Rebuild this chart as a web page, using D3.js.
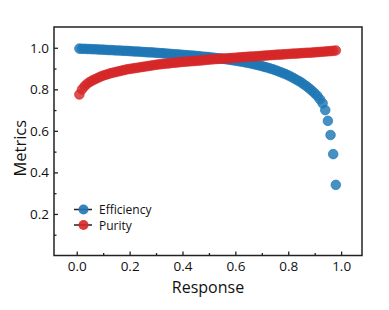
<!DOCTYPE html>
<html><head><meta charset="utf-8">
<script src="https://cdn.jsdelivr.net/npm/d3@7"></script>
<style>body{margin:0;background:#fff}svg{display:block}text{font-family:"Open Sans","DejaVu Sans",sans-serif;fill:#111}</style>
</head><body><svg id="c" width="389" height="310"></svg>
<script>
const responses = [0.01,0.02,0.03,0.04,0.05,0.06,0.07,0.08,0.09,0.10,0.11,0.12,0.13,0.14,0.15,0.16,0.17,0.18,0.19,0.20,0.21,0.22,0.23,0.24,0.25,0.26,0.27,0.28,0.29,0.30,0.31,0.32,0.33,0.34,0.35,0.36,0.37,0.38,0.39,0.40,0.41,0.42,0.43,0.44,0.45,0.46,0.47,0.48,0.49,0.50,0.51,0.52,0.53,0.54,0.55,0.56,0.57,0.58,0.59,0.60,0.61,0.62,0.63,0.64,0.65,0.66,0.67,0.68,0.69,0.70,0.71,0.72,0.73,0.74,0.75,0.76,0.77,0.78,0.79,0.80,0.81,0.82,0.83,0.84,0.85,0.86,0.87,0.88,0.89,0.90,0.91,0.92,0.93,0.94,0.95,0.96,0.97,0.98];
const efficiency = [0.996,0.995,0.995,0.994,0.994,0.993,0.993,0.992,0.991,0.991,0.990,0.989,0.989,0.988,0.987,0.987,0.986,0.985,0.985,0.984,0.983,0.982,0.982,0.981,0.980,0.979,0.978,0.978,0.977,0.976,0.975,0.974,0.973,0.972,0.971,0.970,0.969,0.968,0.967,0.966,0.965,0.964,0.963,0.962,0.961,0.960,0.958,0.957,0.956,0.955,0.953,0.952,0.950,0.949,0.947,0.946,0.944,0.942,0.940,0.938,0.936,0.934,0.932,0.929,0.927,0.924,0.921,0.918,0.915,0.912,0.908,0.905,0.901,0.897,0.893,0.888,0.883,0.878,0.873,0.867,0.861,0.854,0.847,0.840,0.832,0.823,0.814,0.804,0.793,0.781,0.768,0.752,0.733,0.700,0.648,0.580,0.488,0.340];
const purity = [0.775,0.800,0.815,0.827,0.836,0.843,0.849,0.855,0.861,0.866,0.870,0.874,0.878,0.881,0.884,0.887,0.890,0.893,0.896,0.898,0.900,0.902,0.904,0.906,0.908,0.910,0.912,0.914,0.916,0.918,0.920,0.921,0.923,0.924,0.925,0.927,0.928,0.929,0.931,0.932,0.933,0.934,0.935,0.936,0.937,0.938,0.939,0.940,0.942,0.943,0.944,0.945,0.946,0.947,0.948,0.948,0.949,0.950,0.951,0.952,0.953,0.954,0.955,0.956,0.957,0.958,0.958,0.959,0.960,0.961,0.962,0.963,0.964,0.965,0.966,0.967,0.967,0.968,0.969,0.970,0.971,0.972,0.972,0.973,0.974,0.975,0.976,0.976,0.977,0.978,0.979,0.980,0.981,0.982,0.983,0.984,0.985,0.987];
const seriesNames = ["Efficiency","Purity"];
const seriesColors = ["#1f77b4","#d62728"];
const xTicks = [0.0,0.2,0.4,0.6,0.8,1.0];
const xMinor = [0.1,0.3,0.5,0.7,0.9];
const yTicks = [0.2,0.4,0.6,0.8,1.0];
const yMinor = [0.1,0.3,0.5,0.7,0.9];

const svg = d3.select("#c");
const L=54, R=362, T=27, B=255.5;
const x = d3.scaleLinear().domain([-0.086,1.079]).range([L,R]);
const y = d3.scaleLinear().domain([0,1.1]).range([B,T]);

const series = [efficiency, purity];
series.forEach((vals,si)=>{
  svg.append("g").selectAll("circle").data(vals).join("circle")
    .attr("cx",(d,i)=>x(responses[i])).attr("cy",d=>y(d)).attr("r",4.8)
    .attr("fill",seriesColors[si]).attr("fill-opacity",0.82)
    .attr("stroke",seriesColors[si]).attr("stroke-opacity",0.85).attr("stroke-width",0.8);
});

// axes
const xa = svg.append("g").attr("transform",`translate(0,${B})`)
  .call(d3.axisBottom(x).tickValues(xTicks).tickSize(-4).tickPadding(6).tickFormat(d3.format(".1f")));
const xm = svg.append("g").attr("transform",`translate(0,${B})`)
  .call(d3.axisBottom(x).tickValues(xMinor).tickSize(-2.5).tickFormat(""));
const ya = svg.append("g").attr("transform",`translate(${L},0)`)
  .call(d3.axisLeft(y).tickValues(yTicks).tickSize(-4).tickPadding(5).tickFormat(d3.format(".1f")));
const ym = svg.append("g").attr("transform",`translate(${L},0)`)
  .call(d3.axisLeft(y).tickValues(yMinor).tickSize(-2.5).tickFormat(""));
[xa,xm,ya,ym].forEach(g=>{
  g.select(".domain").remove();
  g.selectAll("line").attr("stroke","#222").attr("stroke-width",1.3);
  g.selectAll("text").style("font-size","13.5px").attr("fill","#111");
});
svg.append("rect").attr("x",L).attr("y",T).attr("width",R-L).attr("height",B-T)
  .attr("fill","none").attr("stroke","#222").attr("stroke-width",1.5);

svg.append("text").attr("x",(L+R)/2).attr("y",293).attr("text-anchor","middle")
  .style("font-size","16px").text("Response");
svg.append("text").attr("transform",`translate(26,${(T+B)/2+7}) rotate(-90)`).attr("text-anchor","middle")
  .style("font-size","16.5px").text("Metrics");

// legend
const lg = svg.append("g");
seriesNames.forEach((n,i)=>{
  const cy = 209.5 + i*15.5;
  lg.append("line").attr("x1",74).attr("x2",92).attr("y1",cy).attr("y2",cy)
    .attr("stroke","#222").attr("stroke-width",1.5);
  lg.append("circle").attr("cx",83.5).attr("cy",cy).attr("r",5).attr("fill",seriesColors[i]).attr("fill-opacity",0.9);
  lg.append("text").attr("x",99).attr("y",cy+4.5).style("font-size","12px").text(n);
});
</script></body></html>
